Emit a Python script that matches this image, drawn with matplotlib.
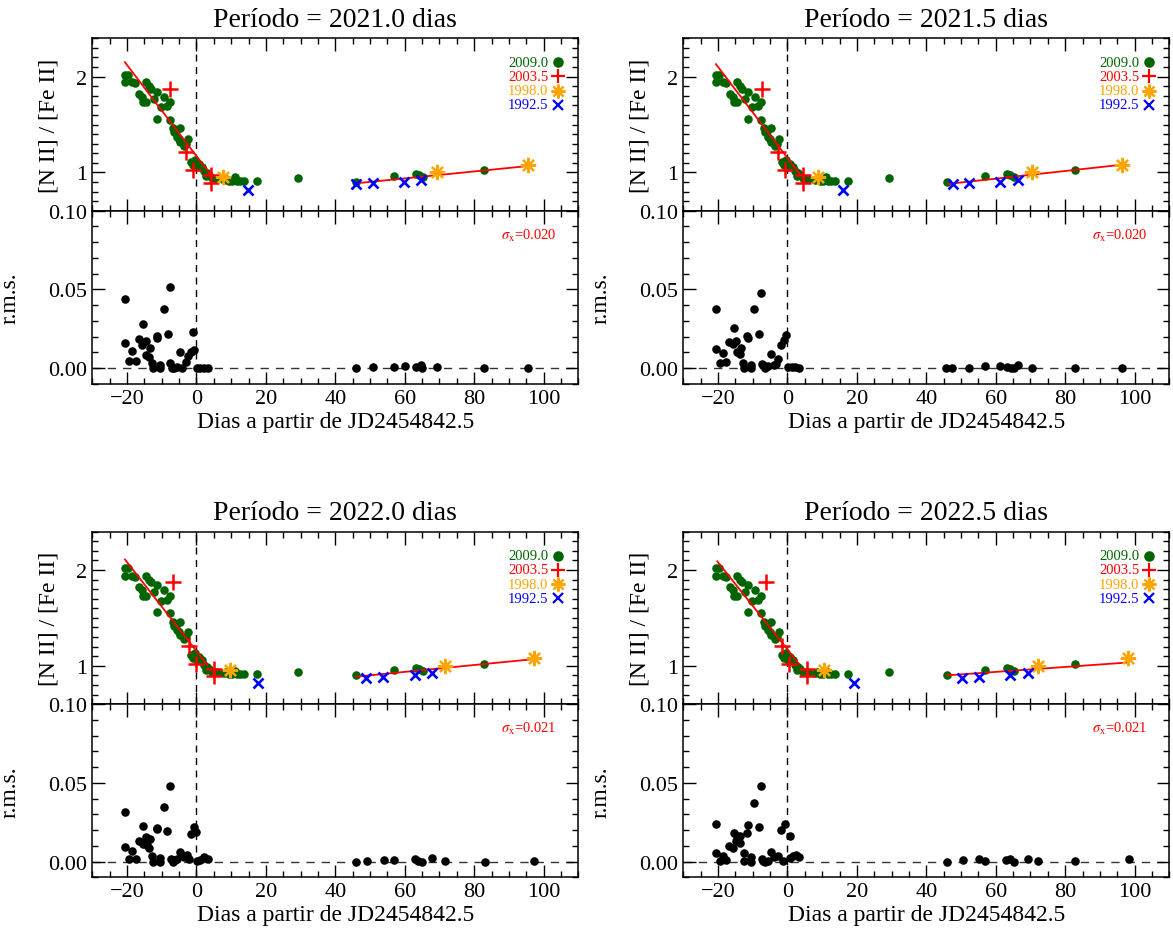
import matplotlib
matplotlib.use('Agg')
import matplotlib.pyplot as plt
from matplotlib.ticker import MultipleLocator, FormatStrFormatter

plt.rcParams['font.family'] = ['Liberation Serif', 'DejaVu Serif']
plt.rcParams['mathtext.fontset'] = 'stix'

# reference cycle 2009.0 (same in every panel)
green_x = [-20.6, -20.6, -19.6, -18.5, -17.7, -16.6, -15.8, -15.5, -14.5, -14.5,
           -13.6, -13.1, -12.3, -11.5, -11.5, -10.3, -9.4, -8.4, -7.6, -7.7,
           -6.7, -6.5, -6.0, -5.5, -5.0, -4.6, -4.6, -3.6, -3.0, -2.5, -1.7, -1.0,
           -0.3, 0.2, 0.8, 1.6, 2.3, 2.8, 3.0, 3.5, 4.5, 5.9, 7.8, 8.5, 9.3, 10.2,
           11.2, 11.7, 12.6, 13.6, 17.4, 29.2, 45.9, 56.8, 63.2, 64.1, 65.3, 82.9]
green_y = [1.94, 2.02, 2.02, 1.94, 1.93, 1.82, 1.79, 1.73, 1.73, 1.94,
           1.90, 1.87, 1.77, 1.84, 1.56, 1.68, 1.79, 1.69, 1.73, 1.55,
           1.46, 1.42, 1.43, 1.37, 1.35, 1.46, 1.32, 1.28, 1.30, 1.35, 1.11, 1.08,
           1.13, 1.06, 1.09, 1.06, 1.01, 0.96, 0.99, 0.97, 0.94, 0.93, 0.92, 0.93, 0.91, 0.91,
           0.95, 0.91, 0.91, 0.91, 0.91, 0.94, 0.90, 0.96, 0.98, 0.97, 0.95, 1.02]

periods = ['2021.0', '2021.5', '2022.0', '2022.5']
sigmas = ['0.020', '0.020', '0.021', '0.021']

# 2003.5 cycle
red_y = [1.87, 1.21, 1.02, 0.97, 0.89]
red_x = [[-7.7, -2.9, -1.05, 4.2, 4.2],
         [-7.3, -2.7, -0.6, 4.6, 4.6],
         [-6.8, -2.2, -0.1, 5.0, 5.0],
         [-6.2, -1.6, 0.5, 5.6, 5.6]]

# 1998.0 cycle
orange_y = [0.955, 1.0, 1.08]
orange_x = [[7.7, 69.3, 95.4],
            [8.7, 70.5, 96.3],
            [9.8, 71.5, 97.3],
            [10.6, 72.1, 98.2]]

# 1992.5 cycle
blue_y = [0.82, 0.875, 0.885, 0.90, 0.92]
blue_x = [[14.8, 45.9, 50.9, 59.8, 64.8],
          [16.1, 47.6, 52.2, 61.2, 66.3],
          [17.7, 48.8, 53.8, 62.9, 67.8],
          [19.1, 50.3, 55.3, 64.2, 69.2]]

# linear fits (x0, y0, x1, y1) for the descending and rising parts
fit_a = [(-20.6, 2.15, 4.0, 0.98), (-20.6, 2.13, 3.6, 0.98),
         (-20.6, 2.11, 3.1, 1.01), (-20.2, 2.09, 3.3, 1.02)]
fit_b = [(45.9, 0.886, 95.4, 1.066), (46.4, 0.88, 96.3, 1.08),
         (45.9, 0.886, 97.3, 1.07), (46.0, 0.90, 98.3, 1.035)]

rms_x = [
    [-20.6, -20.6, -19.4, -18.7, -17.5, -16.6, -15.4, -15.6, -14.5, -14.4, -13.4, -13.7,
     -12.7, -12.4, -11.5, -11.3, -10.5, -10.5, -9.4, -8.2, -7.7, -7.5, -7.0, -6.5, -5.5,
     -4.6, -4.1, -2.9, -2.5, -1.7, -1.0, -0.6, 0.2, 1.1, 2.1, 3.3,
     45.9, 50.9, 56.8, 60.0, 63.2, 64.8, 65.1, 69.3, 82.9, 95.4],
    [-20.6, -20.6, -19.5, -18.7, -17.6, -16.7, -15.5, -15.7, -14.7, -14.5, -13.6, -13.4,
     -12.8, -12.4, -11.7, -11.4, -10.5, -10.5, -9.5, -8.3, -7.7, -7.4, -6.9, -6.4, -5.7,
     -4.7, -4.0, -3.3, -2.8, -1.8, -0.9, -0.5, 0.3, 1.2, 2.2, 3.4,
     45.8, 47.4, 52.4, 56.9, 61.3, 63.2, 64.4, 65.4, 66.5, 70.4, 82.8, 96.3],
    [-20.6, -20.6, -19.4, -18.7, -17.5, -16.6, -15.4, -15.4, -14.4, -14.2, -13.4, -13.7,
     -12.7, -12.4, -11.5, -11.3, -10.5, -10.5, -9.4, -8.4, -7.7, -7.3, -6.7, -6.2, -5.5,
     -4.6, -3.6, -2.7, -2.0, -1.7, -0.8, 0.0, 0.2, 1.1, 2.3, 3.3,
     45.9, 49.0, 54.0, 56.8, 62.9, 63.8, 65.1, 67.9, 71.5, 83.0, 97.3],
    [-20.6, -20.6, -19.3, -18.6, -17.6, -16.7, -15.5, -15.7, -14.7, -14.5, -13.6, -13.6,
     -12.6, -12.4, -11.5, -11.7, -10.5, -10.5, -9.5, -8.3, -7.7, -7.4, -6.9, -6.4, -5.7,
     -4.7, -3.8, -2.8, -1.8, -1.3, -0.7, 0.6, 0.6, 1.5, 2.5, 3.4,
     46.0, 50.5, 55.3, 56.9, 63.0, 64.2, 65.4, 69.4, 72.3, 82.9, 98.4],
]
rms_y = [
    [0.0437, 0.016, 0.0044, 0.011, 0.0046, 0.0188, 0.0278, 0.015, 0.0173, 0.0082, 0.013, 0.0072,
     0.0036, 0.0, 0.0205, 0.019, 0.002, 0.0, 0.0375, 0.022, 0.0515, 0.0036, 0.0004, 0.0, 0.001,
     0.010, 0.0004, 0.004, 0.008, 0.0103, 0.023, 0.0114, 0.0, 0.0, 0.0, 0.0,
     0.0, 0.0006, 0.001, 0.0013, 0.001, 0.002, 0.0, 0.0006, 0.0, 0.0],
    [0.0376, 0.0122, 0.0036, 0.0095, 0.0038, 0.0167, 0.0255, 0.0154, 0.0175, 0.0103, 0.0089, 0.013,
     0.0036, 0.0004, 0.0205, 0.0192, 0.002, 0.0, 0.0376, 0.022, 0.048, 0.003, 0.002, 0.0, 0.0015,
     0.0089, 0.002, 0.003, 0.006, 0.0146, 0.0177, 0.0209, 0.0008, 0.0008, 0.0008, 0.0004,
     0.0004, 0.0, 0.0004, 0.0015, 0.0015, 0.0008, 0.0, 0.0004, 0.0023, 0.0004, 0.0, 0.0],
    [0.0318, 0.0091, 0.0017, 0.0066, 0.0017, 0.0129, 0.0229, 0.0112, 0.0159, 0.0108, 0.0144, 0.0085,
     0.0034, 0.0, 0.0208, 0.0216, 0.0021, 0.0, 0.0345, 0.0197, 0.0479, 0.0017, 0.0, 0.001, 0.0017,
     0.0059, 0.0028, 0.0042, 0.0017, 0.0176, 0.0218, 0.0186, 0.0002, 0.001, 0.0028, 0.0017,
     0.0, 0.0006, 0.001, 0.001, 0.0017, 0.0006, 0.0, 0.0021, 0.0006, 0.0, 0.0002],
    [0.0239, 0.0053, 0.0002, 0.0034, 0.001, 0.0097, 0.0182, 0.0085, 0.0133, 0.0165, 0.0165, 0.0117,
     0.0053, 0.0002, 0.0235, 0.018, 0.0028, 0.0, 0.0373, 0.0218, 0.0479, 0.0017, 0.0006, 0.0, 0.0006,
     0.0059, 0.0028, 0.0038, 0.0201, 0.0002, 0.0239, 0.0165, 0.0021, 0.0038, 0.0044, 0.0028,
     0.0, 0.0013, 0.0017, 0.0006, 0.001, 0.0017, 0.0, 0.0017, 0.0006, 0.0006, 0.0017],
]

GREEN = '#006400'
ORANGE = '#ffa500'

W, H = 1173, 945
fig = plt.figure(figsize=(W / 100, H / 100), dpi=100)


def frac(left, top, width, height):
    return [left / W, 1 - (top + height) / H, width / W, height / H]


def style_axis(ax):
    ax.tick_params(which='both', direction='in', top=True, right=True, labelsize=16, width=1)
    ax.tick_params(which='major', length=9)
    ax.tick_params(which='minor', length=4.5)
    ax.xaxis.set_major_locator(MultipleLocator(20))
    ax.xaxis.set_minor_locator(MultipleLocator(5))
    ax.set_xlim(-30, 110)
    for s in ax.spines.values():
        s.set_linewidth(1.1)


lefts = [92.3, 683.3, 92.3, 683.3]
tops = [39.3, 39.3, 532.7, 532.7]
aw = 486
h1 = 172.4
h2 = 173.3

leg_labels = ['2009.0', '2003.5', '1998.0', '1992.5']
leg_colors = [GREEN, 'red', ORANGE, 'blue']
leg_markers = ['o', '+', (8, 2, 0), 'x']
leg_sizes = [6, 10, 10, 7]
leg_y = [0.861, 0.780, 0.696, 0.615]

for i in range(4):
    L, T = lefts[i], tops[i]
    ax1 = fig.add_axes(frac(L, T, aw, h1))
    ax2 = fig.add_axes(frac(L, T + h1, aw, h2))

    # upper panel: line ratio
    style_axis(ax1)
    ax1.set_ylim(0.6, 2.4)
    ax1.yaxis.set_major_locator(MultipleLocator(1))
    ax1.yaxis.set_minor_locator(MultipleLocator(0.1))
    ax1.set_yticks([1, 2])
    ax1.set_yticklabels(['1', '2'])
    ax1.tick_params(labelbottom=False)
    ax1.axvline(0, color='black', ls=(0, (5, 4)), lw=1)
    ax1.scatter(green_x, green_y, s=38, color=GREEN, zorder=3, linewidths=0)
    ax1.plot([fit_a[i][0], fit_a[i][2]], [fit_a[i][1], fit_a[i][3]], color='red', lw=1.3, zorder=4)
    ax1.plot([fit_b[i][0], fit_b[i][2]], [fit_b[i][1], fit_b[i][3]], color='red', lw=1.3, zorder=4)
    ax1.plot(red_x[i], red_y, ls='none', marker='+', ms=11, mew=1.8, color='red', zorder=5)
    ax1.plot(orange_x[i], orange_y, ls='none', marker=(8, 2, 0), ms=11, mew=1.6, color=ORANGE, zorder=5)
    ax1.plot(blue_x[i], blue_y, ls='none', marker='x', ms=7.5, mew=1.9, color='blue', zorder=5)
    ax1.set_ylabel('[N II] / [Fe II]', fontsize=17, labelpad=12)
    ax1.set_title('Período = ' + periods[i] + ' dias', fontsize=20, pad=9)

    # legend
    for lab, c, m, ms, yy in zip(leg_labels, leg_colors, leg_markers, leg_sizes, leg_y):
        ax1.text(0.938, yy, lab, color=c, fontsize=10.5, ha='right', va='center', transform=ax1.transAxes)
        ax1.plot([0.958], [yy], marker=m, ms=ms, mew=1.6, color=c, transform=ax1.transAxes,
                 clip_on=False, ls='none')

    # lower panel: rms
    style_axis(ax2)
    ax2.set_ylim(-0.01, 0.10)
    ax2.yaxis.set_major_locator(MultipleLocator(0.05))
    ax2.yaxis.set_minor_locator(MultipleLocator(0.01))
    ax2.yaxis.set_major_formatter(FormatStrFormatter('%.2f'))
    ax2.axvline(0, color='black', ls=(0, (5, 4)), lw=1)
    ax2.axhline(0, color='black', ls=(0, (6, 5)), lw=1, alpha=0.8)
    ax2.scatter(rms_x[i], rms_y[i], s=38, color='black', zorder=3, linewidths=0)
    ax2.text(0.955, 0.862, r'$\sigma_{\rm x}$=' + sigmas[i], color='red', fontsize=10.5,
             ha='right', va='center', transform=ax2.transAxes)
    ax2.set_ylabel('r.m.s.', fontsize=17, labelpad=20)
    ax2.set_xlabel('Dias a partir de JD2454842.5', fontsize=17, labelpad=2)

fig.savefig('out.png', dpi=100)
